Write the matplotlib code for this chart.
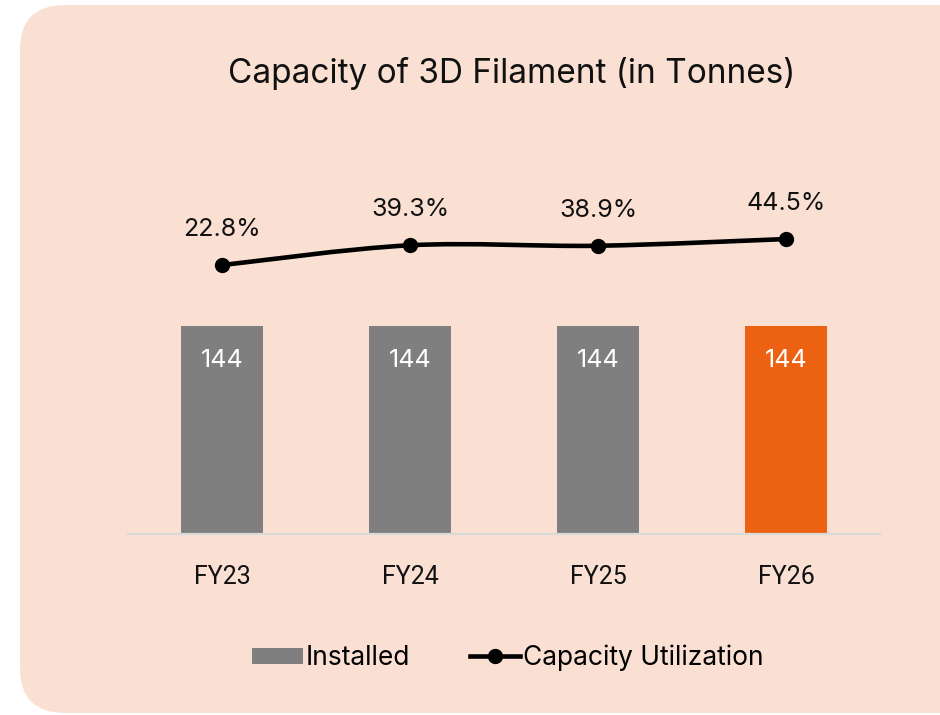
import numpy as np
import matplotlib.pyplot as plt
from matplotlib.patches import FancyBboxPatch, PathPatch
from matplotlib.path import Path
from matplotlib.lines import Line2D
from matplotlib.patches import Patch

# Datos
years = ['FY23', 'FY24', 'FY25', 'FY26']
installed = [144, 144, 144, 144]
utilization = [22.8, 39.3, 38.9, 44.5]
bar_colors = ['#7F7F7F', '#7F7F7F', '#7F7F7F', '#EC6212']

plt.rcParams['font.family'] = ['Inter', 'DejaVu Sans']

fig = plt.figure(figsize=(9.4, 7.15), dpi=100)
fig.patch.set_facecolor('white')

# Fondo redondeado (en pixeles)
bg = FancyBboxPatch((20 + 45, 2 + 45), 1000, 708 - 90,
                    boxstyle='round,pad=45', transform=None,
                    facecolor='#FAE0D3', edgecolor='none', zorder=-5)
fig.patches.append(bg)

fig.text(512 / 940, 1 - 73 / 715, 'Capacity of 3D Filament (in Tonnes)',
         ha='center', va='center', fontsize=24, color='#111111')

# Ejes
ax = fig.add_axes([128 / 940, 1 - 534 / 715, 752 / 940, 354 / 715])
ax.set_zorder(1)
ax.patch.set_alpha(0)
x = np.arange(len(years))
ax.bar(x, installed, width=0.435, color=bar_colors, zorder=2)
ax.set_xlim(-0.5, 3.5)
ax.set_ylim(0, 244.5)
ax.set_yticks([])
for s in ['top', 'right', 'left']:
    ax.spines[s].set_visible(False)
ax.spines['bottom'].set_color('#D9D9D9')
ax.spines['bottom'].set_linewidth(1.6)
ax.set_xticks(x)
ax.set_xticklabels(years, fontsize=18, fontfamily='Roboto', color='#111111')
ax.tick_params(axis='x', length=0, pad=22)

for xi, v in zip(x, installed):
    ax.annotate(str(v), (xi, v), xytext=(0, -25), textcoords='offset points',
                ha='center', va='center', fontsize=18, color='white')

# Eje secundario para la utilizacion
ax2 = ax.twinx()
ax2.set_zorder(2)
ax2.patch.set_alpha(0)
ax2.set_ylim(-201.3, 93.7)
ax2.set_yticks([])
for s in ax2.spines.values():
    s.set_visible(False)

# Linea suavizada (Bezier tipo Catmull-Rom)
pts = np.column_stack([x, utilization]).astype(float)
verts = [tuple(pts[0])]
codes = [Path.MOVETO]
n = len(pts)
for i in range(n - 1):
    p0 = pts[i - 1] if i > 0 else pts[i]
    p1 = pts[i]
    p2 = pts[i + 1]
    p3 = pts[i + 2] if i + 2 < n else pts[i + 1]
    c1 = p1 + (p2 - p0) / 6
    c2 = p2 - (p3 - p1) / 6
    verts += [tuple(c1), tuple(c2), tuple(p2)]
    codes += [Path.CURVE4] * 3
ax2.add_patch(PathPatch(Path(verts, codes), facecolor='none', edgecolor='black',
                        linewidth=3.3, zorder=3))
ax2.plot(x, utilization, 'o', color='black', markersize=10, zorder=4)

for xi, u in zip(x, utilization):
    ax2.annotate(f'{u:.1f}%', (xi, u), xytext=(0, 25.5), textcoords='offset points',
                 ha='center', va='center', fontsize=18, color='#111111')

handles = [Patch(facecolor='#7F7F7F', edgecolor='none'),
           Line2D([0], [0], color='black', linewidth=3.3, marker='o', markersize=10)]
fig.legend(handles, ['Installed', 'Capacity Utilization'], loc='center',
           bbox_to_anchor=(508 / 940, 1 - 658 / 715), ncol=2, frameon=False,
           fontsize=19, handlelength=1.9, handleheight=0.6, handletextpad=0.1,
           columnspacing=2.3)

fig.savefig('out.png', dpi=100)
